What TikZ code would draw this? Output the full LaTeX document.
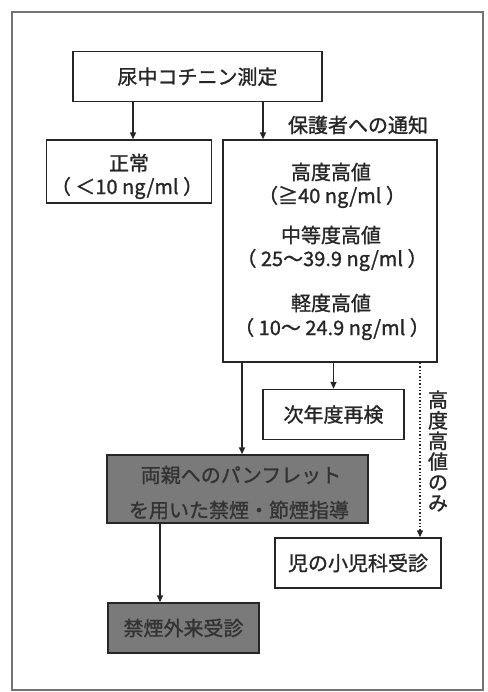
\documentclass[tikz,border=0pt]{standalone}
\usepackage{fontspec}
\setmainfont{Noto Sans CJK JP}[FakeBold=1.2]
\usetikzlibrary{arrows.meta}
\begin{document}
\begin{tikzpicture}[x=1pt,y=-1pt,
  txt/.style={font=\fontsize{20}{25}\selectfont},
  box/.style={draw=black!85, line width=1.4pt, inner sep=0pt, align=center, txt},
  darkbox/.style={box, fill=black!52, text=black!80},
  arr/.style={draw=black!85, line width=1.4pt, -{Triangle[length=7pt,width=6pt]}},
  dotarr/.style={draw=black!85, line width=1.4pt, dotted, -{Triangle[length=7pt,width=6pt]}},
  lbl/.style={inner sep=0pt, align=center, txt, text=black!85}]
\useasboundingbox (0,0) rectangle (487,692);
\draw[black!55, line width=1.5pt] (12,12) rectangle (483,690);
% boxes
\node[box, minimum width=249pt, minimum height=50pt, text=black!85] (top) at (197.5,76.7) {尿中コチニン測定};
\node[box, minimum width=165pt, minimum height=63pt] (normal) at (129,171.5) {};
\node[lbl] (normalA) at (129,163) {正常};
\node[lbl] (normalB) at (127,188) {（ ＜10 ng/ml ）};
\node[box, minimum width=214pt, minimum height=222pt] (big) at (330,251) {};
\node[lbl] (b1) at (331,172) {高度高値};
\node[lbl] (b2) at (332,197) {（≧40 ng/ml ）};
\node[lbl] (b3) at (331,235) {中等度高値};
\node[lbl] (b4) at (332,260) {（ 25〜39.9 ng/ml ）};
\node[lbl] (b5) at (331,303) {軽度高値};
\node[lbl] (b6) at (332,329) {（ 10〜 24.9 ng/ml ）};
\node[lbl] (notice) at (358,125) {保護者への通知};
\node[box, minimum width=141pt, minimum height=50pt, text=black!85] (next) at (333.5,414.5) {次年度再検};
\node[darkbox, minimum width=261pt, minimum height=68pt] (dark1) at (237.5,489) {};
\node[lbl, text=black!80] (d1a) at (241,475) {両親へのパンフレット};
\node[lbl, text=black!80] (d1b) at (239,510) {を用いた禁煙・節煙指導};
\node[darkbox, minimum width=151pt, minimum height=50pt] (dark2) at (183.5,628) {禁煙外来受診};
\node[box, minimum width=166pt, minimum height=50pt, text=black!85] (child) at (358,563) {児の小児科受診};
\node[lbl, font=\fontsize{20}{20.6}\selectfont] (only) at (438,451) {高\\度\\高\\値\\の\\み};
% connectors
\draw[arr] (top.south -| 133,0) -- (133,0 |- normal.north);
\draw[arr] (top.south -| 263,0) -- (263,0 |- big.north);
\draw[arr] (big.south -| next.north) -- (next.north);
\draw[arr] (big.south -| 242,0) -- (242,0 |- dark1.north);
\draw[dotarr] (big.south -| 420,0) -- (420,0 |- child.north);
\draw[arr] (dark1.south -| 160,0) -- (160,0 |- dark2.north);
\end{tikzpicture}
\end{document}
